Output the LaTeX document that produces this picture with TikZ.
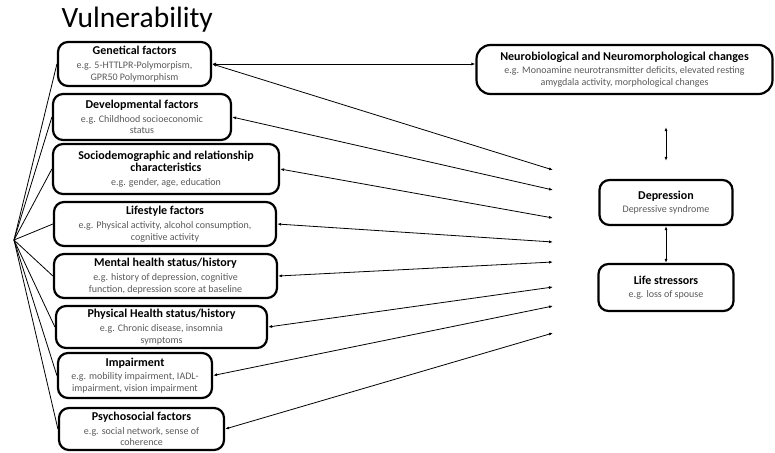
\documentclass[tikz,border=0pt]{standalone}
\usepackage{fontspec}
\setmainfont{Carlito}
\usetikzlibrary{arrows.meta}
\definecolor{descgray}{RGB}{89,89,89}
\newcommand{\head}[1]{{\color{black}\fontsize{12}{14}\selectfont\bfseries #1}}

\begin{document}
\begin{tikzpicture}[x=1pt, y=-1pt, >={Latex[length=4pt,width=3pt]},
    fac/.style={draw, line width=2.2pt, rounded corners=10pt, align=center,
                text=descgray, inner sep=2pt, font=\fontsize{10}{11.7}\selectfont},
    link/.style={<->, line width=0.8pt},
    fan/.style={line width=0.8pt}
]
    \useasboundingbox (0,0) rectangle (775,452);

    % Title
    \node[anchor=base west, font=\fontsize{29.5}{31}\selectfont] (title) at (58,28) {Vulnerability};

    % Vulnerability factors (left column)
    \node[fac, minimum width=153pt, minimum height=44pt] (gen) at (134.5,64)
        {\head{Genetical factors}\\[2pt] e.g. 5-HTTLPR-Polymorpism,\\ GPR50 Polymorphism};
    \node[fac, minimum width=178pt, minimum height=46pt] (dev) at (142,117)
        {\head{Developmental factors}\\[2pt] e.g. Childhood socioeconomic\\ status};
    \node[fac, minimum width=226pt, minimum height=50pt] (socio) at (166,169)
        {\head{Sociodemographic and relationship}\\ \head{characteristics}\\[2pt] e.g. gender, age, education};
    \node[fac, minimum width=222pt, minimum height=44pt] (life) at (165,224)
        {\head{Lifestyle factors}\\[2pt] e.g. Physical activity, alcohol consumption,\\ cognitive activity};
    \node[fac, minimum width=223pt, minimum height=44pt] (mental) at (165.5,276)
        {\head{Mental health status/history}\\[2pt] e.g. history of depression, cognitive\\ function, depression score at baseline};
    \node[fac, minimum width=211pt, minimum height=42pt] (phys) at (161.5,327)
        {\head{Physical Health status/history}\\[2pt] e.g. Chronic disease, insomnia\\ symptoms};
    \node[fac, minimum width=154pt, minimum height=45pt] (impair) at (135,375.5)
        {\head{Impairment}\\[2pt] e.g. mobility impairment, IADL-\\ impairment, vision impairment};
    \node[fac, minimum width=165pt, minimum height=42pt] (psycho) at (141.5,429)
        {\head{Psychosocial factors}\\[2pt] e.g. social network, sense of\\ coherence};

    % Right column
    \node[fac, rounded corners=14pt, minimum width=296pt, minimum height=49pt] (neuro) at (624.5,69.5)
        {\head{Neurobiological and Neuromorphological changes}\\[2pt] e.g. Monoamine neurotransmitter deficits, elevated resting\\ amygdala activity, morphological changes};
    \node[fac, minimum width=133pt, minimum height=45pt] (dep) at (666,202.5)
        {\head{Depression}\\[2pt] Depressive syndrome};
    \node[fac, minimum width=135pt, minimum height=47pt] (stress) at (666,287.5)
        {\head{Life stressors}\\[2pt] e.g. loss of spouse};

    % Fan on the left
    \coordinate (hub) at (14,240);
    \draw[fan] (hub) -- (gen.west);
    \draw[fan] (hub) -- (dev.west);
    \draw[fan] (hub) -- (socio.west);
    \draw[fan] (hub) -- (life.west);
    \draw[fan] (hub) -- (mental.west);
    \draw[fan] (hub) -- (phys.west);
    \draw[fan] (hub) -- (impair.west);
    \draw[fan] (hub) -- (psycho.west);

    % Arrow ends in front of depression
    \coordinate (d1) at (553,170);
    \coordinate (d2) at (553,190);
    \coordinate (d3) at (553,218);
    \coordinate (d4) at (553,242);
    \coordinate (d5) at (553,262);
    \coordinate (d6) at (553,287);
    \coordinate (d7) at (553,306);
    \coordinate (d8) at (553,333);

    \draw[link] (gen.east) -- (gen.east -| neuro.west);
    \draw[link] (gen.east) -- (d1);
    \draw[link] (dev.east) -- (d2);
    \draw[link] (socio.east) -- (d3);
    \draw[link] (life.east) -- (d4);
    \draw[link] (mental.east) -- (d5);
    \draw[link] (phys.east) -- (d6);
    \draw[link] (impair.east) -- (d7);
    \draw[link] (psycho.east) -- (d8);

    \draw[link, shorten <=32pt, shorten >=18pt] (dep.north |- neuro.south) -- (dep.north);
    \draw[link] (dep.south) -- (stress.north);
\end{tikzpicture}
\end{document}
